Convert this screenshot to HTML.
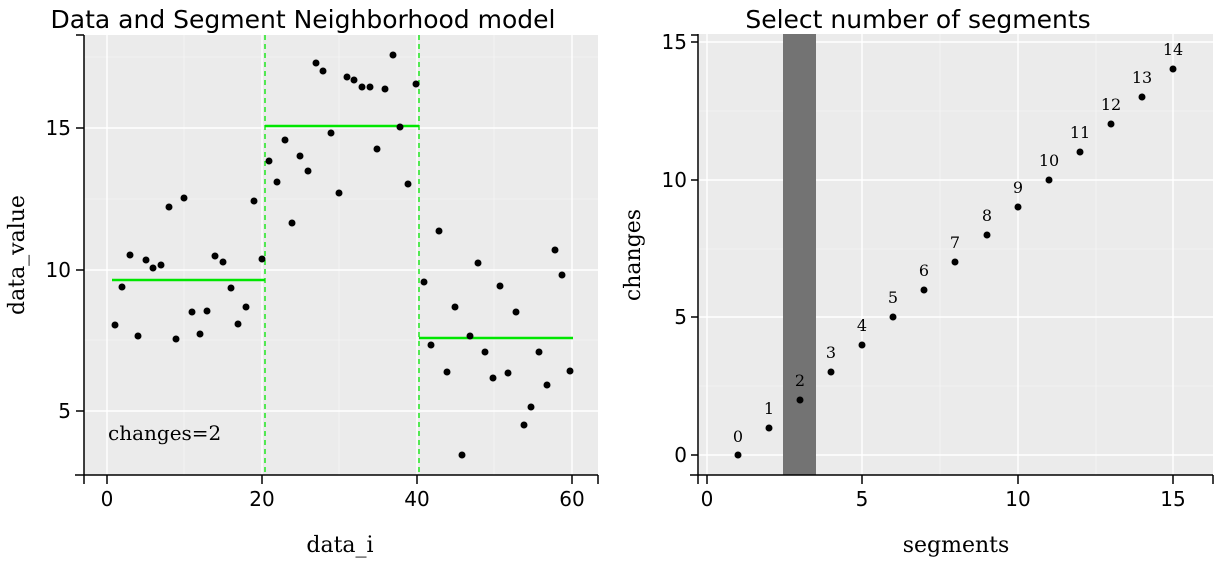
<!DOCTYPE html><html><head><style>body{margin:0;background:#fff}svg text{font-family:"DejaVu Sans","Liberation Sans",sans-serif}svg text.s,svg g.s text{font-family:"DejaVu Serif","Liberation Serif",serif}</style></head><body>
<svg width="1222" height="560" xmlns="http://www.w3.org/2000/svg">
<rect x="84" y="35" width="514" height="440" fill="#ebebeb"/>
<g stroke="#f5f5f5" stroke-width="0.8"><line x1="184" y1="35" x2="184" y2="475"/><line x1="339" y1="35" x2="339" y2="475"/><line x1="494" y1="35" x2="494" y2="475"/><line x1="84" y1="340" x2="598" y2="340"/><line x1="84" y1="199" x2="598" y2="199"/><line x1="84" y1="57" x2="598" y2="57"/></g>
<g stroke="#fff" stroke-width="1.4"><line x1="107" y1="35" x2="107" y2="475"/><line x1="262" y1="35" x2="262" y2="475"/><line x1="417" y1="35" x2="417" y2="475"/><line x1="572" y1="35" x2="572" y2="475"/><line x1="84" y1="411" x2="598" y2="411"/><line x1="84" y1="270" x2="598" y2="270"/><line x1="84" y1="128" x2="598" y2="128"/></g>
<g stroke="#000" stroke-width="1.5"><line x1="84" y1="35" x2="84" y2="484"/><line x1="75" y1="475" x2="598" y2="475"/>
<line x1="76" y1="411" x2="84" y2="411"/><line x1="76" y1="270" x2="84" y2="270"/><line x1="76" y1="128" x2="84" y2="128"/><line x1="76" y1="35" x2="84" y2="35"/>
<line x1="107" y1="475" x2="107" y2="484"/><line x1="262" y1="475" x2="262" y2="484"/><line x1="417" y1="475" x2="417" y2="484"/><line x1="572" y1="475" x2="572" y2="484"/><line x1="598" y1="475" x2="598" y2="484"/></g>
<g stroke="#00e600" stroke-width="1.3" stroke-dasharray="5,4"><line x1="265" y1="35" x2="265" y2="475"/><line x1="419" y1="35" x2="419" y2="475"/></g>
<g stroke="#00e600" stroke-width="2.5"><line x1="112" y1="280" x2="265" y2="280"/><line x1="265" y1="126" x2="419" y2="126"/><line x1="419" y1="338" x2="573" y2="338"/></g>
<g fill="#000">
<circle cx="115" cy="325" r="3.5"/><circle cx="122" cy="287" r="3.5"/><circle cx="130" cy="255" r="3.5"/><circle cx="138" cy="336" r="3.5"/><circle cx="146" cy="260" r="3.5"/><circle cx="153" cy="268" r="3.5"/><circle cx="161" cy="265" r="3.5"/><circle cx="169" cy="207" r="3.5"/><circle cx="176" cy="339" r="3.5"/><circle cx="184" cy="198" r="3.5"/><circle cx="192" cy="312" r="3.5"/><circle cx="200" cy="334" r="3.5"/><circle cx="207" cy="311" r="3.5"/><circle cx="215" cy="256" r="3.5"/><circle cx="223" cy="262" r="3.5"/><circle cx="231" cy="288" r="3.5"/><circle cx="238" cy="324" r="3.5"/><circle cx="246" cy="307" r="3.5"/><circle cx="254" cy="201" r="3.5"/><circle cx="262" cy="259" r="3.5"/>
<circle cx="269" cy="161" r="3.5"/><circle cx="277" cy="182" r="3.5"/><circle cx="285" cy="140" r="3.5"/><circle cx="292" cy="223" r="3.5"/><circle cx="300" cy="156" r="3.5"/><circle cx="308" cy="171" r="3.5"/><circle cx="316" cy="63" r="3.5"/><circle cx="323" cy="71" r="3.5"/><circle cx="331" cy="133" r="3.5"/><circle cx="339" cy="193" r="3.5"/><circle cx="347" cy="77" r="3.5"/><circle cx="354" cy="80" r="3.5"/><circle cx="362" cy="87" r="3.5"/><circle cx="370" cy="87" r="3.5"/><circle cx="377" cy="149" r="3.5"/><circle cx="385" cy="89" r="3.5"/><circle cx="393" cy="55" r="3.5"/><circle cx="400" cy="127" r="3.5"/><circle cx="408" cy="184" r="3.5"/><circle cx="416" cy="84" r="3.5"/>
<circle cx="424" cy="282" r="3.5"/><circle cx="431" cy="345" r="3.5"/><circle cx="439" cy="231" r="3.5"/><circle cx="447" cy="372" r="3.5"/><circle cx="455" cy="307" r="3.5"/><circle cx="462" cy="455" r="3.5"/><circle cx="470" cy="336" r="3.5"/><circle cx="478" cy="263" r="3.5"/><circle cx="485" cy="352" r="3.5"/><circle cx="493" cy="378" r="3.5"/><circle cx="500" cy="286" r="3.5"/><circle cx="508" cy="373" r="3.5"/><circle cx="516" cy="312" r="3.5"/><circle cx="524" cy="425" r="3.5"/><circle cx="531" cy="407" r="3.5"/><circle cx="539" cy="352" r="3.5"/><circle cx="547" cy="385" r="3.5"/><circle cx="555" cy="250" r="3.5"/><circle cx="562" cy="275" r="3.5"/><circle cx="570" cy="371" r="3.5"/>
</g>
<text class="s" x="108" y="440" font-size="20">changes=2</text>
<g font-size="20" text-anchor="end"><text x="71" y="418">5</text><text x="71" y="277">10</text><text x="71" y="135">15</text></g>
<g font-size="20" text-anchor="middle"><text x="107" y="506">0</text><text x="262" y="506">20</text><text x="417" y="506">40</text><text x="572" y="506">60</text></g>
<text x="303" y="28" font-size="25" text-anchor="middle">Data and Segment Neighborhood model</text>
<text class="s" x="340" y="552" font-size="22" text-anchor="middle">data_i</text>
<text class="s" transform="translate(24,255) rotate(-90)" font-size="22" text-anchor="middle">data_value</text>

<rect x="699" y="34" width="514" height="441" fill="#ebebeb"/>
<g stroke="#f5f5f5" stroke-width="0.8"><line x1="785" y1="34" x2="785" y2="475"/><line x1="940" y1="34" x2="940" y2="475"/><line x1="1096" y1="34" x2="1096" y2="475"/><line x1="699" y1="386" x2="1213" y2="386"/><line x1="699" y1="249" x2="1213" y2="249"/><line x1="699" y1="111" x2="1213" y2="111"/></g>
<g stroke="#fff" stroke-width="1.4"><line x1="707" y1="34" x2="707" y2="475"/><line x1="862" y1="34" x2="862" y2="475"/><line x1="1018" y1="34" x2="1018" y2="475"/><line x1="1173" y1="34" x2="1173" y2="475"/><line x1="699" y1="455" x2="1213" y2="455"/><line x1="699" y1="317" x2="1213" y2="317"/><line x1="699" y1="180" x2="1213" y2="180"/><line x1="699" y1="42" x2="1213" y2="42"/></g>
<rect x="783" y="34" width="33" height="441" fill="#737373"/>
<g stroke="#000" stroke-width="1.5"><line x1="698" y1="34" x2="698" y2="484"/><line x1="690" y1="475" x2="1213" y2="475"/>
<line x1="691" y1="455" x2="698" y2="455"/><line x1="691" y1="317" x2="698" y2="317"/><line x1="691" y1="180" x2="698" y2="180"/><line x1="691" y1="42" x2="698" y2="42"/><line x1="691" y1="35" x2="698" y2="35"/>
<line x1="707" y1="475" x2="707" y2="484"/><line x1="862" y1="475" x2="862" y2="484"/><line x1="1018" y1="475" x2="1018" y2="484"/><line x1="1173" y1="475" x2="1173" y2="484"/><line x1="1213" y1="475" x2="1213" y2="484"/></g>
<g fill="#000"><circle cx="738" cy="455" r="3.5"/><circle cx="769" cy="428" r="3.5"/><circle cx="800" cy="400" r="3.5"/><circle cx="831" cy="372" r="3.5"/><circle cx="862" cy="345" r="3.5"/><circle cx="893" cy="317" r="3.5"/><circle cx="924" cy="290" r="3.5"/><circle cx="955" cy="262" r="3.5"/><circle cx="987" cy="235" r="3.5"/><circle cx="1018" cy="207" r="3.5"/><circle cx="1049" cy="180" r="3.5"/><circle cx="1080" cy="152" r="3.5"/><circle cx="1111" cy="124" r="3.5"/><circle cx="1142" cy="97" r="3.5"/><circle cx="1173" cy="69" r="3.5"/></g>
<g class="s" font-size="16" text-anchor="middle"><text x="738" y="442">0</text><text x="769" y="414">1</text><text x="800" y="386">2</text><text x="831" y="358">3</text><text x="862" y="331">4</text><text x="893" y="303">5</text><text x="924" y="276">6</text><text x="955" y="248">7</text><text x="987" y="221">8</text><text x="1018" y="193">9</text><text x="1049" y="166">10</text><text x="1080" y="138">11</text><text x="1111" y="110">12</text><text x="1142" y="83">13</text><text x="1173" y="55">14</text></g>
<g font-size="20" text-anchor="end"><text x="687" y="462">0</text><text x="687" y="324">5</text><text x="687" y="187">10</text><text x="687" y="49">15</text></g>
<g font-size="20" text-anchor="middle"><text x="707" y="506">0</text><text x="862" y="506">5</text><text x="1018" y="506">10</text><text x="1173" y="506">15</text></g>
<text x="918" y="28" font-size="25" text-anchor="middle">Select number of segments</text>
<text class="s" x="956" y="552" font-size="22" text-anchor="middle">segments</text>
<text class="s" transform="translate(640,255) rotate(-90)" font-size="22" text-anchor="middle">changes</text>
</svg></body></html>
